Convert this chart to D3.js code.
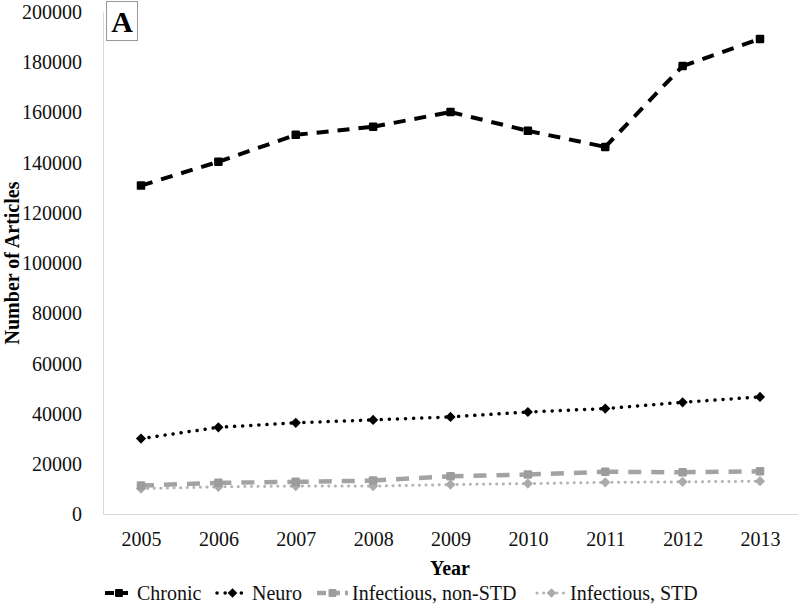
<!DOCTYPE html>
<html><head><meta charset="utf-8">
<script src="https://cdn.jsdelivr.net/npm/d3@7"></script>
<style>body{margin:0;background:#fff}svg{display:block}</style>
</head><body>
<svg id="c" width="800" height="606"></svg>
<script>
const years = ["2005","2006","2007","2008","2009","2010","2011","2012","2013"];
const chronic = [130900,140400,151100,154300,160200,152700,146300,178500,189300];
const neuro = [30200,34700,36500,37650,38850,40800,42150,44650,46800];
const infNonStd = [11500,12600,13000,13500,15200,15900,17000,16800,17200];
const infStd = [10300,11000,11300,11300,11900,12300,12800,13000,13250];
const yTicks = [0,20000,40000,60000,80000,100000,120000,140000,160000,180000,200000];
const seriesNames = ["Chronic","Neuro","Infectious, non-STD","Infectious, STD"];

(function(){
const FONT = "'Liberation Serif', 'Times New Roman', serif";
const series = [
  {name:seriesNames[0], values:chronic, color:"#000", dash:"12,9", ldash:"9,5", width:4, cap:"butt", marker:"square", mcolor:"#000"},
  {name:seriesNames[1], values:neuro, color:"#000", dash:"0.1,8", ldash:"0.1,8", width:3.5, cap:"round", marker:"diamond", mcolor:"#000"},
  {name:seriesNames[2], values:infNonStd, color:"#a3a3a3", dash:"13,10", ldash:"9,5", width:4.5, cap:"butt", marker:"square", mcolor:"#9c9c9c"},
  {name:seriesNames[3], values:infStd, color:"#b3b3b3", dash:"0.1,6.5", ldash:"0.1,6.5", width:3, cap:"round", marker:"diamond", mcolor:"#ababab"}
];

const svg = d3.select("#c");
const mL = 103, mR = 798, mT = 12, mB = 514.5;
const x = d3.scalePoint().domain(years).range([141, 760]);
const y = d3.scaleLinear().domain([0,200000]).range([mB, mT]);

const yAxis = svg.append("g").attr("transform",`translate(${mL},0)`)
  .call(d3.axisLeft(y).tickValues(yTicks).tickSize(0).tickPadding(21).tickFormat(d3.format("d")));
yAxis.select(".domain").attr("stroke","#d9d9d9");
yAxis.attr("font-family",FONT);
yAxis.selectAll("text").attr("font-size",20).attr("fill","#111").attr("font-family",FONT);

const xAxis = svg.append("g").attr("transform",`translate(0,${mB})`)
  .call(d3.axisBottom(x).tickSize(0).tickPadding(17));
xAxis.select(".domain").attr("d",`M${mL},0H${mR}`).attr("stroke","#d9d9d9");
xAxis.attr("font-family",FONT);
xAxis.selectAll("text").attr("font-size",20).attr("fill","#111").attr("font-family",FONT);

svg.append("text").attr("x",450).attr("y",575).attr("text-anchor","middle").attr("font-family",FONT)
  .attr("font-size",20).attr("font-weight","bold").text("Year");
svg.append("text").attr("transform","translate(19,263) rotate(-90)").attr("text-anchor","middle")
  .attr("font-family",FONT).attr("font-size",20).attr("font-weight","bold").text("Number of Articles");

svg.append("rect").attr("x",106.5).attr("y",1.5).attr("width",31).attr("height",39)
  .attr("fill","#fff").attr("stroke","#999");
svg.append("text").attr("x",122).attr("y",32).attr("text-anchor","middle").attr("font-family",FONT)
  .attr("font-size",30).attr("font-weight","bold").text("A");

function drawMarker(g, type, cx, cy, color, s){
  if(type==="square"){
    g.append("rect").attr("x",cx-s/2).attr("y",cy-s/2).attr("width",s).attr("height",s)
      .attr("rx",1.2).attr("fill",color);
  } else {
    const r = s*0.6;
    g.append("path").attr("d",`M${cx},${cy-r}L${cx+r},${cy}L${cx},${cy+r}L${cx-r},${cy}Z`).attr("fill",color);
  }
}

[...series].reverse().forEach(s=>{
  const g = svg.append("g");
  for(let i=0;i<s.values.length-1;i++){
    g.append("line").attr("x1",x(years[i])).attr("y1",y(s.values[i]))
      .attr("x2",x(years[i+1])).attr("y2",y(s.values[i+1]))
      .attr("stroke",s.color).attr("stroke-width",s.width).attr("stroke-dasharray",s.dash)
      .attr("stroke-linecap",s.cap);
  }
  s.values.forEach((v,i)=>drawMarker(g,s.marker,x(years[i]),y(v),s.mcolor,8.5));
});

const legendPos = [[105,137],[217,252],[317,352],[537,570]];
series.forEach((s,i)=>{
  const g = svg.append("g");
  const [x0,tx] = legendPos[i];
  const ly = 593;
  g.append("line").attr("x1",x0).attr("x2",tx-4).attr("y1",ly).attr("y2",ly)
    .attr("stroke",s.color).attr("stroke-width",s.width).attr("stroke-dasharray",s.ldash)
    .attr("stroke-linecap",s.cap);
  drawMarker(g,s.marker,(x0+tx-4)/2,ly,s.mcolor,8);
  g.append("text").attr("x",tx).attr("y",ly+7).attr("font-family",FONT).attr("font-size",20).attr("fill","#111").text(s.name);
});
})();
</script>
</body></html>
